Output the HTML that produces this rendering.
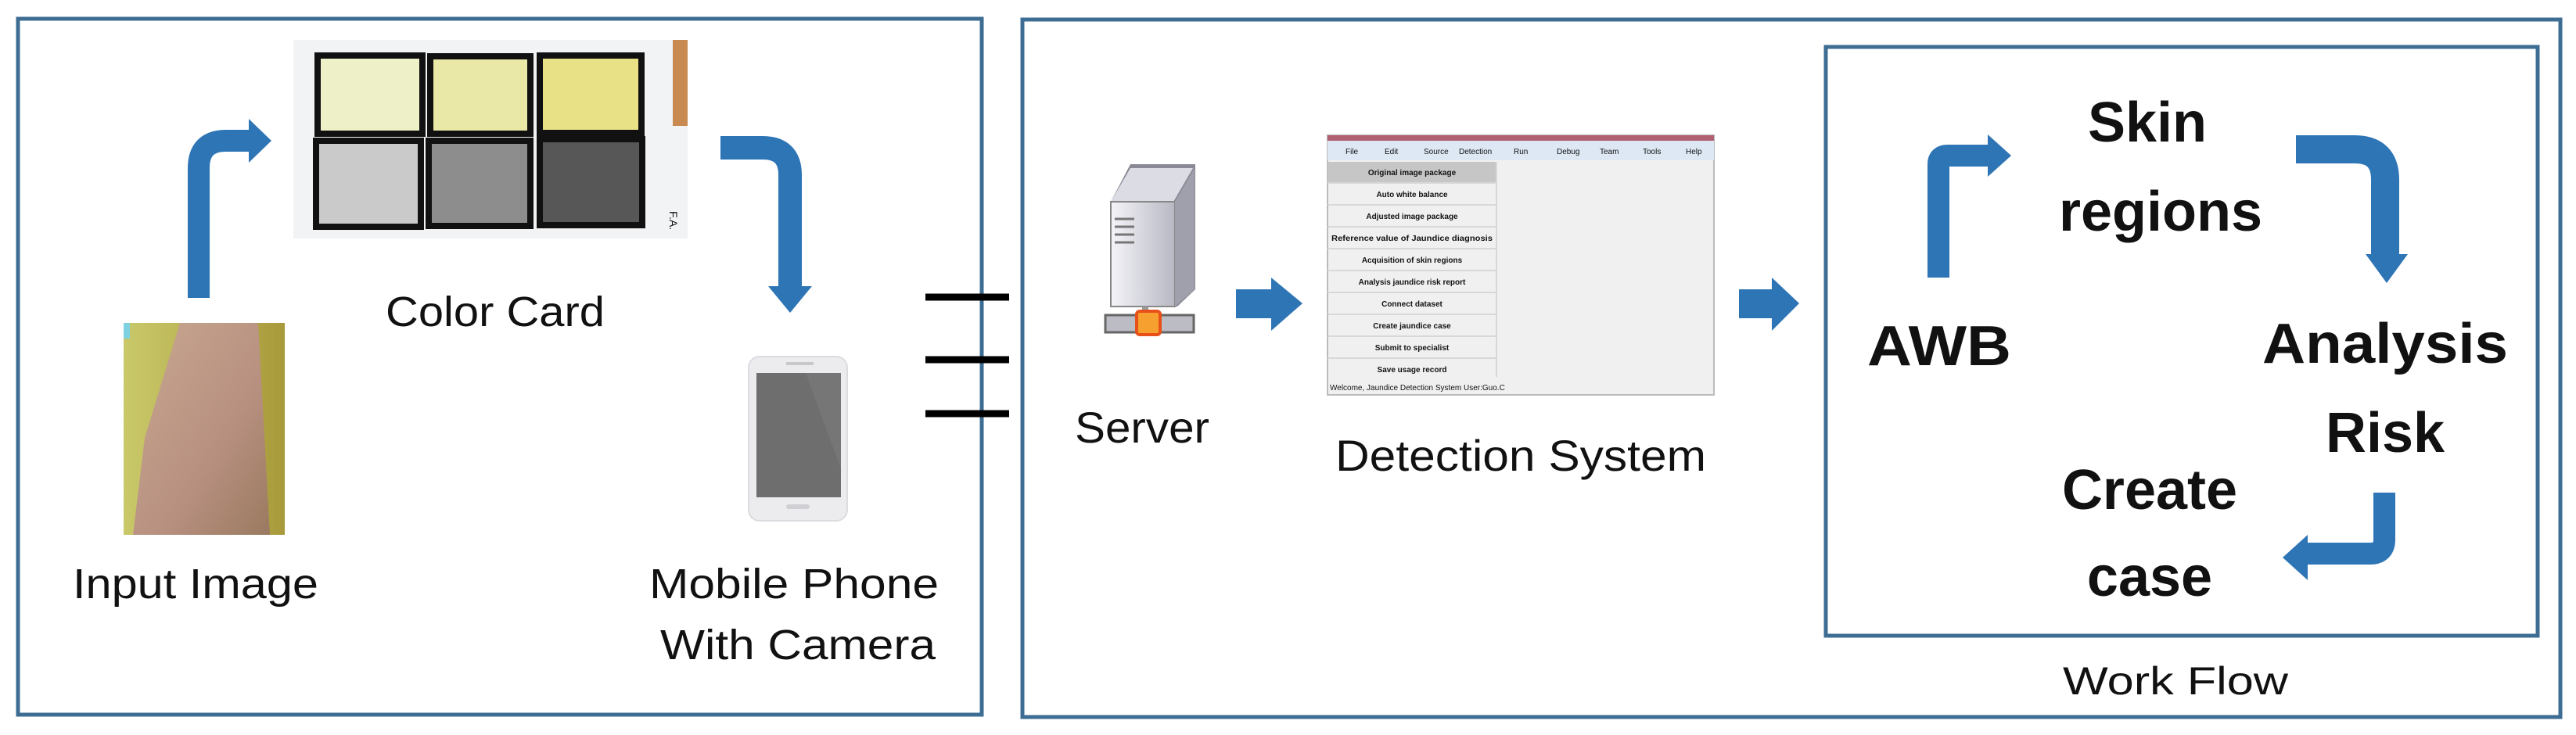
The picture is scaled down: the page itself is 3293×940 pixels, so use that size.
<!DOCTYPE html>
<html><head><meta charset="utf-8"><style>
html,body{margin:0;padding:0;background:#fff;}
svg{display:block;}
text{font-family:"Liberation Sans",sans-serif;fill:#111;}
</style></head><body>
<svg width="3293" height="940" viewBox="0 0 3293 940" xmlns="http://www.w3.org/2000/svg">
<defs>
<linearGradient id="armbg" x1="0" y1="0" x2="1" y2="0">
<stop offset="0" stop-color="#c9c96a"/><stop offset="1" stop-color="#a89a3a"/></linearGradient>
<linearGradient id="skin" x1="0" y1="0" x2="1" y2="1">
<stop offset="0" stop-color="#c8a890"/><stop offset="0.6" stop-color="#b89080"/><stop offset="1" stop-color="#9a7a60"/></linearGradient>
<linearGradient id="tower" x1="0" y1="0" x2="1" y2="0">
<stop offset="0" stop-color="#f4f4f8"/><stop offset="1" stop-color="#b8b8c4"/></linearGradient>
</defs>
<!-- outer boxes -->
<rect x="23" y="24" width="1232" height="890" fill="none" stroke="#3e6d94" stroke-width="5"/>
<rect x="1307" y="25" width="1966" height="892" fill="none" stroke="#3e6d94" stroke-width="5"/>
<rect x="2334" y="60" width="910" height="753" fill="none" stroke="#3e6d94" stroke-width="5"/>

<!-- color card -->
<rect x="375" y="51" width="504" height="254" fill="#f2f3f4"/>
<rect x="860" y="51" width="19" height="110" fill="#c88a50"/>
<g stroke="#111" stroke-width="8">
<rect x="406" y="71" width="134" height="100" fill="#eef0c8"/>
<rect x="550" y="72" width="128" height="99" fill="#e9e8a6"/>
<rect x="690" y="71" width="130" height="99" fill="#e9e186"/>
<rect x="404" y="180" width="134" height="110" fill="#cacaca"/>
<rect x="548" y="180" width="130" height="109" fill="#8d8d8d"/>
<rect x="690" y="178" width="131" height="110" fill="#575757"/>
</g>
<text x="856" y="270" font-size="14" fill="#3344aa" transform="rotate(90 856 270)">F.A.</text>

<!-- left arrows -->
<path d="M254 381 V215 Q254 180 289 180 H322" fill="none" stroke="#2e75b6" stroke-width="28"/>
<polygon points="318,152 347,180 318,208" fill="#2e75b6"/>
<path d="M921 189 H975 Q1010 189 1010 224 V368" fill="none" stroke="#2e75b6" stroke-width="30"/>
<polygon points="982,366 1038,366 1010,400" fill="#2e75b6"/>

<!-- arm image -->
<rect x="158" y="413" width="206" height="271" fill="url(#armbg)"/>
<polygon points="230,413 330,413 345,684 170,684 185,560" fill="url(#skin)"/>
<rect x="158" y="413" width="8" height="20" fill="#7fd0e0"/>

<!-- phone -->
<rect x="957" y="456" width="126" height="210" rx="14" fill="#ececee" stroke="#dcdce0" stroke-width="2"/>
<rect x="967" y="477" width="108" height="159" fill="#6e6e6e"/>
<polygon points="1030,477 1075,477 1075,600" fill="#767676"/>
<rect x="1005" y="645" width="30" height="6" rx="3" fill="#d0d0d4"/>
<rect x="1005" y="463" width="35" height="4" fill="#c8c8cc"/>

<!-- left labels -->
<text x="633" y="417" font-size="54" text-anchor="middle" textLength="280" lengthAdjust="spacingAndGlyphs">Color Card</text>
<text x="250" y="765" font-size="54" text-anchor="middle" textLength="314" lengthAdjust="spacingAndGlyphs">Input Image</text>
<text x="1015" y="765" font-size="54" text-anchor="middle" textLength="370" lengthAdjust="spacingAndGlyphs">Mobile Phone</text>
<text x="1020" y="843" font-size="54" text-anchor="middle" textLength="352" lengthAdjust="spacingAndGlyphs">With Camera</text>

<!-- connector lines -->
<g stroke="#000" stroke-width="9">
<line x1="1183" y1="380" x2="1290" y2="380"/>
<line x1="1183" y1="460" x2="1290" y2="460"/>
<line x1="1183" y1="529" x2="1290" y2="529"/>
</g>

<!-- server icon -->
<polygon points="1420,258 1445,210 1528,210 1528,370 1505,392 1420,392" fill="#8a8a96"/>
<polygon points="1420,258 1445,215 1525,215 1500,258" fill="#dcdce4"/>
<rect x="1420" y="258" width="82" height="134" fill="url(#tower)" stroke="#888" stroke-width="2"/>
<polygon points="1502,258 1527,215 1527,370 1502,392" fill="#a0a0ac"/>
<g stroke="#777" stroke-width="3"><line x1="1425" y1="280" x2="1450" y2="280"/><line x1="1425" y1="290" x2="1450" y2="290"/><line x1="1425" y1="300" x2="1450" y2="300"/><line x1="1425" y1="310" x2="1450" y2="310"/></g>
<rect x="1460" y="392" width="8" height="15" fill="#999"/>
<rect x="1413" y="403" width="113" height="22" fill="#bcbcc4" stroke="#666" stroke-width="3"/>
<rect x="1453" y="398" width="30" height="30" rx="4" fill="#f6a030" stroke="#e8501a" stroke-width="4"/>
<text x="1460" y="566" font-size="56" text-anchor="middle" textLength="172" lengthAdjust="spacingAndGlyphs">Server</text>

<!-- arrows -->
<polygon points="1580,370 1625,370 1625,355 1665,388 1625,423 1625,407 1580,407" fill="#2e75b6"/>
<polygon points="2223,370 2265,370 2265,355 2300,388 2265,423 2265,407 2223,407" fill="#2e75b6"/>

<!-- detection screenshot -->
<rect x="1697" y="173" width="494" height="332" fill="#f0f0f0" stroke="#bbb" stroke-width="2"/>
<rect x="1697" y="173" width="494" height="7" fill="#b06070"/>
<rect x="1697" y="180" width="494" height="25" fill="#dde8f4"/>
<g font-size="10" fill="#666">
<text x="1720" y="197">File</text><text x="1770" y="197">Edit</text><text x="1820" y="197">Source</text><text x="1865" y="197">Detection</text><text x="1935" y="197">Run</text><text x="1990" y="197">Debug</text><text x="2045" y="197">Team</text><text x="2100" y="197">Tools</text><text x="2155" y="197">Help</text>
</g>
<rect x="1697" y="207" width="216" height="27" fill="#c6c6c6"/>
<g stroke="#d8d8d8" stroke-width="2">
<line x1="1697" y1="234" x2="1913" y2="234"/><line x1="1697" y1="262" x2="1913" y2="262"/><line x1="1697" y1="290" x2="1913" y2="290"/><line x1="1697" y1="318" x2="1913" y2="318"/><line x1="1697" y1="346" x2="1913" y2="346"/><line x1="1697" y1="374" x2="1913" y2="374"/><line x1="1697" y1="402" x2="1913" y2="402"/><line x1="1697" y1="430" x2="1913" y2="430"/><line x1="1697" y1="458" x2="1913" y2="458"/><line x1="1913" y1="207" x2="1913" y2="482"/>
</g>
<g font-size="10" fill="#333" text-anchor="middle" font-weight="bold">
<text x="1805" y="224">Original image package</text>
<text x="1805" y="252">Auto white balance</text>
<text x="1805" y="280">Adjusted image package</text>
<text x="1805" y="308" textLength="206" lengthAdjust="spacingAndGlyphs">Reference value of Jaundice diagnosis</text>
<text x="1805" y="336">Acquisition of skin regions</text>
<text x="1805" y="364">Analysis jaundice risk report</text>
<text x="1805" y="392">Connect dataset</text>
<text x="1805" y="420">Create jaundice case</text>
<text x="1805" y="448">Submit to specialist</text>
<text x="1805" y="476">Save usage record</text>
</g>
<text x="1700" y="499" font-size="10" fill="#555" font-family="Liberation Mono,monospace">Welcome, Jaundice Detection System User:Guo.C</text>
<text x="1944" y="602" font-size="56" text-anchor="middle" textLength="474" lengthAdjust="spacingAndGlyphs">Detection System</text>

<!-- workflow arrows -->
<path d="M2478 355 V210 Q2478 199 2490 199 H2545" fill="none" stroke="#2e75b6" stroke-width="28"/>
<polygon points="2541,172 2571,199 2541,226" fill="#2e75b6"/>
<path d="M2935 191 H3010 Q3049 191 3049 230 V330" fill="none" stroke="#2e75b6" stroke-width="36"/>
<polygon points="3024,325 3078,325 3051,362" fill="#2e75b6"/>
<path d="M3048 630 V690 Q3048 708 3030 708 H2945" fill="none" stroke="#2e75b6" stroke-width="28"/>
<polygon points="2950,684 2918,713 2950,742" fill="#2e75b6"/>

<!-- workflow labels -->
<g font-weight="bold" font-size="72">
<text x="2745" y="181" text-anchor="middle">Skin</text>
<text x="2762" y="295" text-anchor="middle">regions</text>
<text x="2479" y="467" text-anchor="middle" textLength="184" lengthAdjust="spacingAndGlyphs">AWB</text>
<text x="3049" y="464" text-anchor="middle" textLength="314" lengthAdjust="spacingAndGlyphs">Analysis</text>
<text x="3049" y="578" text-anchor="middle">Risk</text>
<text x="2748" y="651" text-anchor="middle">Create</text>
<text x="2748" y="762" text-anchor="middle">case</text>
</g>
<text x="2781" y="888" font-size="50" text-anchor="middle" textLength="288" lengthAdjust="spacingAndGlyphs">Work Flow</text>
</svg>
</body></html>
